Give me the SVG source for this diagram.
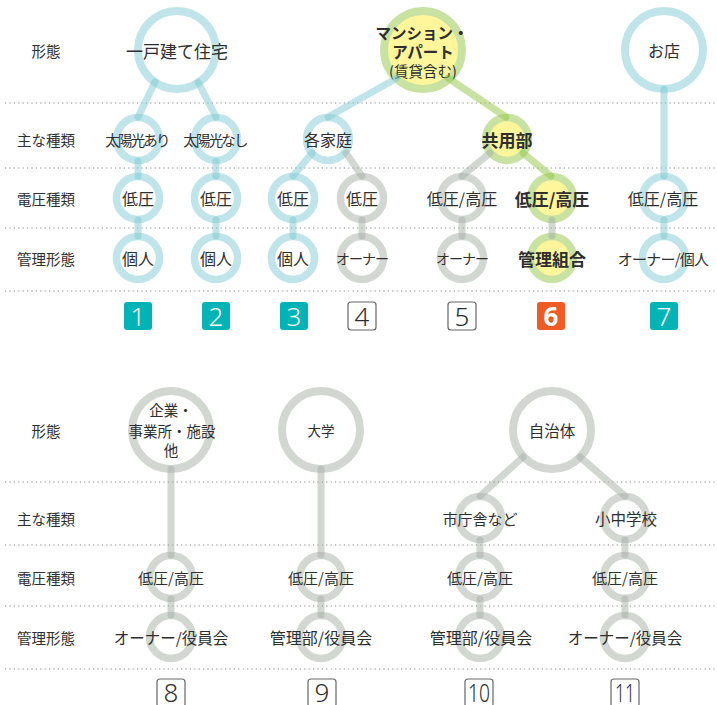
<svg xmlns="http://www.w3.org/2000/svg" width="717" height="705" viewBox="0 0 717 705">
<style>
text{font-family:"Noto Sans CJK JP","Noto Sans",sans-serif;fill:#2e2e2e;text-anchor:middle;dominant-baseline:central}
.lab{font-size:14.5px}
.n{font-size:16px}
.b{font-weight:bold}
.dot{stroke:#888;stroke-width:1.2;stroke-dasharray:1.2 3.2;fill:none}
.rt{fill:none;stroke:#bfe4e9;stroke-width:7.5}
.rg{fill:none;stroke:#d2d7d2;stroke-width:7.5}
.ry{fill:#fff59b;stroke:#c8e2a2;stroke-width:7.5}
.big{stroke-width:8}
.ct{stroke:#7fc9d3;stroke-opacity:.5;stroke-width:7;stroke-linecap:round;fill:none}
.cg{stroke:#a5afa5;stroke-opacity:.5;stroke-width:7;stroke-linecap:round;fill:none}
.cy{stroke:#91c545;stroke-opacity:.5;stroke-width:7;stroke-linecap:round;fill:none}
.bf{fill:#00b4b6}
.bo{fill:#f15a24}
.bx{fill:#fff;stroke:#666;stroke-width:1.2}
.d{font-family:"Noto Sans",sans-serif;font-size:26px;font-weight:300;dominant-baseline:auto}
.dw{fill:#fff}
</style>
<g id="grid">
<line class="dot" x1="5" y1="103" x2="715" y2="103"/>
<line class="dot" x1="5" y1="168" x2="715" y2="168"/>
<line class="dot" x1="5" y1="228" x2="715" y2="228"/>
<line class="dot" x1="5" y1="291" x2="715" y2="291"/>
<line class="dot" x1="5" y1="482" x2="715" y2="482"/>
<line class="dot" x1="5" y1="545" x2="715" y2="545"/>
<line class="dot" x1="5" y1="606" x2="715" y2="606"/>
<line class="dot" x1="5" y1="669" x2="715" y2="669"/>
</g>
<g id="labels">
<text class="lab" x="46" y="50">形態</text>
<text class="lab" x="46" y="139">主な種類</text>
<text class="lab" x="46" y="198">電圧種類</text>
<text class="lab" x="46" y="258">管理形態</text>
<text class="lab" x="46" y="430">形態</text>
<text class="lab" x="46" y="518">主な種類</text>
<text class="lab" x="46" y="577">電圧種類</text>
<text class="lab" x="46" y="637">管理形態</text>
</g>
<g id="rings">
<g id="n-house"><circle class="rt big" cx="177" cy="50" r="39"/><text x="177" y="50" style="font-size:17px">一戸建て住宅</text></g>
<g id="n-mansion"><circle class="ry big" cx="423" cy="50" r="39"/><text class="b" x="422" y="32" style="font-size:15.5px">マンション・</text><text class="b" x="423" y="51" style="font-size:15.5px">アパート</text><text x="423" y="70" style="font-size:14.5px">(賃貸含む)</text></g>
<g id="n-shop"><circle class="rt big" cx="664" cy="50" r="39"/><text class="n" x="664" y="50">お店</text></g>
<g id="n-solar1"><circle class="rt" cx="138" cy="139" r="21.5"/><text x="137" y="139" style="font-size:14.5px;letter-spacing:-1.8px">太陽光あり</text></g>
<g id="n-solar0"><circle class="rt" cx="216" cy="139" r="21.5"/><text x="215" y="139" style="font-size:14.5px;letter-spacing:-1.8px">太陽光なし</text></g>
<g id="n-home"><circle class="rt" cx="328" cy="139" r="21.5"/><text class="n" x="328" y="139">各家庭</text></g>
<g id="n-common"><circle class="ry" cx="507" cy="139" r="21.5"/><text class="b" x="507" y="139" style="font-size:17px">共用部</text></g>
<g id="n-v1"><circle class="rt" cx="138" cy="198" r="21.5"/><text class="n" x="138" y="198">低圧</text></g>
<g id="n-v2"><circle class="rt" cx="216" cy="198" r="21.5"/><text class="n" x="216" y="198">低圧</text></g>
<g id="n-v3"><circle class="rt" cx="293" cy="198" r="21.5"/><text class="n" x="293" y="198">低圧</text></g>
<g id="n-v4"><circle class="rg" cx="362" cy="198" r="21.5"/><text class="n" x="362" y="198">低圧</text></g>
<g id="n-v5"><circle class="rg" cx="462" cy="198" r="21.5"/><text class="n" x="462" y="198">低圧/高圧</text></g>
<g id="n-v6"><circle class="ry" cx="552" cy="198" r="21.5"/><text class="b" x="552" y="198" style="font-size:17px">低圧/高圧</text></g>
<g id="n-v7"><circle class="rt" cx="664" cy="198" r="21.5"/><text class="n" x="663" y="198">低圧/高圧</text></g>
<g id="n-m1"><circle class="rt" cx="138" cy="258" r="21.5"/><text class="n" x="138" y="258">個人</text></g>
<g id="n-m2"><circle class="rt" cx="216" cy="258" r="21.5"/><text class="n" x="216" y="258">個人</text></g>
<g id="n-m3"><circle class="rt" cx="293" cy="258" r="21.5"/><text class="n" x="293" y="258">個人</text></g>
<g id="n-m4"><circle class="rg" cx="362" cy="258" r="21.5"/><text x="362" y="258" style="font-size:14px;letter-spacing:-1px">オーナー</text></g>
<g id="n-m5"><circle class="rg" cx="462" cy="258" r="21.5"/><text x="462" y="258" style="font-size:14px;letter-spacing:-1px">オーナー</text></g>
<g id="n-m6"><circle class="ry" cx="552" cy="258" r="21.5"/><text class="b" x="552" y="258" style="font-size:17px">管理組合</text></g>
<g id="n-m7"><circle class="rt" cx="664" cy="258" r="21.5"/><text x="663" y="258" style="font-size:15px;letter-spacing:-0.8px">オーナー/個人</text></g>
<g id="n-corp"><circle class="rg big" cx="171" cy="430" r="39"/><text x="171" y="409" style="font-size:14.5px">企業・</text><text x="172" y="430" style="font-size:14.5px">事業所・施設</text><text x="171" y="449" style="font-size:14.5px">他</text></g>
<g id="n-univ"><circle class="rg big" cx="321" cy="430" r="39"/><text x="321" y="430" style="font-size:13.5px">大学</text></g>
<g id="n-city"><circle class="rg big" cx="552" cy="430" r="39"/><text x="552" y="430" style="font-size:15.5px">自治体</text></g>
<g id="n-cityhall"><circle class="rg" cx="480" cy="518" r="21.5"/><text x="480" y="518" style="font-size:15px">市庁舎など</text></g>
<g id="n-school"><circle class="rg" cx="625" cy="518" r="21.5"/><text x="626" y="518" style="font-size:15.5px">小中学校</text></g>
<g id="n-bv8"><circle class="rg" cx="171" cy="577" r="21.5"/><text x="171" y="577" style="font-size:15px">低圧/高圧</text></g>
<g id="n-bv9"><circle class="rg" cx="321" cy="577" r="21.5"/><text x="321" y="577" style="font-size:15px">低圧/高圧</text></g>
<g id="n-bv10"><circle class="rg" cx="480" cy="577" r="21.5"/><text x="480" y="577" style="font-size:15px">低圧/高圧</text></g>
<g id="n-bv11"><circle class="rg" cx="625" cy="577" r="21.5"/><text x="625" y="577" style="font-size:15px">低圧/高圧</text></g>
<g id="n-bm8"><circle class="rg" cx="171" cy="637" r="21.5"/><text x="171" y="637" style="font-size:15.5px">オーナー/役員会</text></g>
<g id="n-bm9"><circle class="rg" cx="321" cy="637" r="21.5"/><text x="321" y="637" style="font-size:16px">管理部/役員会</text></g>
<g id="n-bm10"><circle class="rg" cx="480" cy="637" r="21.5"/><text x="481" y="637" style="font-size:16px">管理部/役員会</text></g>
<g id="n-bm11"><circle class="rg" cx="625" cy="637" r="21.5"/><text x="625" y="637" style="font-size:15.5px">オーナー/役員会</text></g>
</g>
<g id="connectors">
<line class="ct" x1="155" y1="82" x2="138" y2="117"/>
<line class="ct" x1="198" y1="82" x2="216" y2="117"/>
<line class="ct" x1="138" y1="161" x2="138" y2="176"/>
<line class="ct" x1="216" y1="161" x2="216" y2="176"/>
<line class="ct" x1="138" y1="220" x2="138" y2="236"/>
<line class="ct" x1="216" y1="220" x2="216" y2="236"/>
<line class="ct" x1="397" y1="78" x2="328" y2="117"/>
<line class="ct" x1="312" y1="153" x2="293" y2="176"/>
<line class="ct" x1="293" y1="220" x2="293" y2="236"/>
<line class="ct" x1="664" y1="89" x2="664" y2="176"/>
<line class="ct" x1="664" y1="220" x2="664" y2="236"/>
<line class="cg" x1="346" y1="153" x2="362" y2="176"/>
<line class="cg" x1="362" y1="220" x2="362" y2="236"/>
<line class="cg" x1="490" y1="153" x2="462" y2="176"/>
<line class="cg" x1="462" y1="220" x2="462" y2="236"/>
<line class="cg" x1="552" y1="220" x2="552" y2="236"/>
<line class="cy" x1="448" y1="78" x2="506" y2="117"/>
<line class="cy" x1="523" y1="153" x2="551" y2="176"/>
<line class="cg" x1="171" y1="469" x2="171" y2="555"/>
<line class="cg" x1="171" y1="599" x2="171" y2="615"/>
<line class="cg" x1="321" y1="469" x2="321" y2="555"/>
<line class="cg" x1="321" y1="599" x2="321" y2="615"/>
<line class="cg" x1="523" y1="457" x2="480" y2="496"/>
<line class="cg" x1="580" y1="457" x2="625" y2="496"/>
<line class="cg" x1="480" y1="540" x2="480" y2="555"/>
<line class="cg" x1="480" y1="599" x2="480" y2="615"/>
<line class="cg" x1="625" y1="540" x2="625" y2="555"/>
<line class="cg" x1="625" y1="599" x2="625" y2="615"/>
</g>
<g id="numbers">
<g id="b1"><rect class="bf" x="124" y="302" width="28" height="28" rx="3"/><text class="d dw" x="138" y="325.5">1</text></g>
<g id="b2"><rect class="bf" x="202" y="302" width="28" height="28" rx="3"/><text class="d dw" x="216" y="325.5">2</text></g>
<g id="b3"><rect class="bf" x="280" y="302" width="28" height="28" rx="3"/><text class="d dw" x="294" y="325.5">3</text></g>
<g id="b4"><rect class="bx" x="348" y="302" width="28" height="28" rx="3"/><text class="d" x="362" y="325.5">4</text></g>
<g id="b5"><rect class="bx" x="448" y="302" width="28" height="28" rx="3"/><text class="d" x="462" y="325.5">5</text></g>
<g id="b6"><rect class="bo" x="537" y="302" width="28" height="28" rx="3"/><text class="d dw" x="551" y="325.5" style="font-weight:bold">6</text></g>
<g id="b7"><rect class="bf" x="650" y="302" width="28" height="28" rx="3"/><text class="d dw" x="664" y="325.5">7</text></g>
<g id="b8"><rect class="bx" x="157" y="679" width="28" height="28" rx="3"/><text class="d" x="171" y="702">8</text></g>
<g id="b9"><rect class="bx" x="308" y="679" width="28" height="28" rx="3"/><text class="d" x="322" y="702">9</text></g>
<g id="b10"><rect class="bx" x="465" y="679" width="28" height="28" rx="3"/><text class="d" x="479" y="702" textLength="22" lengthAdjust="spacingAndGlyphs">10</text></g>
<g id="b11"><rect class="bx" x="611" y="679" width="28" height="28" rx="3"/><text class="d" x="625" y="702" textLength="20" lengthAdjust="spacingAndGlyphs">11</text></g>
</g>
</svg>
